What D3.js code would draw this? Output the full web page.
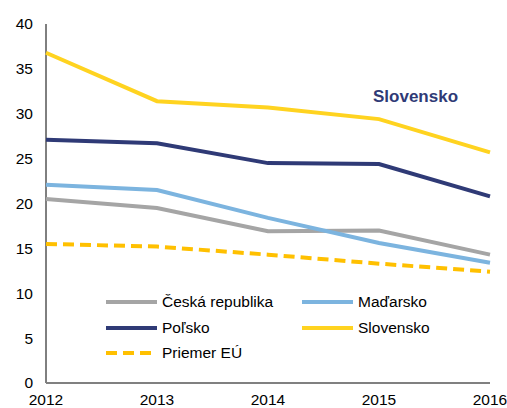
<!DOCTYPE html>
<html>
<head>
<meta charset="utf-8">
<script src="https://d3js.org/d3.v7.min.js"></script>
<style>
  body { margin: 0; background: #fff; }
  text { font-family: "Liberation Sans", Arial, sans-serif; }
</style>
</head>
<body>
<svg width="507" height="408"></svg>
<script>
  var years = [2012, 2013, 2014, 2015, 2016];
  var yTicks = [0, 5, 10, 15, 20, 25, 30, 35, 40];

  var cesko = [20.5, 19.5, 16.9, 17.0, 14.3];
  var madarsko = [22.1, 21.5, 18.4, 15.6, 13.4];
  var polsko = [27.1, 26.7, 24.5, 24.4, 20.8];
  var slovensko = [36.8, 31.4, 30.7, 29.4, 25.7];
  var priemerEU = [15.5, 15.2, 14.3, 13.3, 12.4];

  var series = [
    {name: "Česká republika", values: cesko, color: "#a5a5a5", dash: null},
    {name: "Maďarsko", values: madarsko, color: "#7cb4df", dash: null},
    {name: "Poľsko", values: polsko, color: "#2f3a76", dash: null},
    {name: "Slovensko", values: slovensko, color: "#ffd320", dash: null},
    {name: "Priemer EÚ", values: priemerEU, color: "#ffc000", dash: "11,6"}
  ];

  var svg = d3.select("svg");
  var x = d3.scaleLinear().domain([2012, 2016]).range([46, 490]);
  var y = d3.scaleLinear().domain([0, 40]).range([383, 24]);

  // y axis
  svg.append("line")
    .attr("x1", 46).attr("x2", 46)
    .attr("y1", y(40)).attr("y2", y(0))
    .attr("stroke", "#000").attr("stroke-width", 1);

  svg.append("g").selectAll("text")
    .data(yTicks).enter().append("text")
    .attr("x", 33).attr("y", function(d){ return y(d); })
    .attr("dy", "0.35em")
    .attr("text-anchor", "end")
    .attr("font-size", 15.5)
    .attr("fill", "#000")
    .text(function(d){ return d; });

  // lines
  var line = d3.line()
    .x(function(d, i){ return x(years[i]); })
    .y(function(d){ return y(d); });

  svg.append("g").selectAll("path")
    .data(series).enter().append("path")
    .attr("d", function(d){ return line(d.values); })
    .attr("fill", "none")
    .attr("stroke", function(d){ return d.color; })
    .attr("stroke-width", 4)
    .attr("stroke-dasharray", function(d){ return d.dash; });

  // x axis
  svg.append("line")
    .attr("x1", 46).attr("x2", 490)
    .attr("y1", y(0)).attr("y2", y(0))
    .attr("stroke", "#808080").attr("stroke-width", 2);

  svg.append("g").selectAll("text")
    .data(years).enter().append("text")
    .attr("x", function(d){ return x(d); })
    .attr("y", 405)
    .attr("text-anchor", "middle")
    .attr("font-size", 15.5)
    .attr("fill", "#000")
    .text(function(d){ return d; });

  // legend
  var legendPos = [
    [106, 302], [302, 302],
    [106, 328], [302, 328],
    [106, 353]
  ];
  var order = [0, 1, 2, 3, 4];
  var lg = svg.append("g").selectAll("g")
    .data(order).enter().append("g")
    .attr("transform", function(d, i){ return "translate(" + legendPos[i][0] + "," + legendPos[i][1] + ")"; });
  lg.append("line")
    .attr("x1", 0).attr("x2", 51)
    .attr("stroke", function(d){ return series[d].color; })
    .attr("stroke-width", 4)
    .attr("stroke-dasharray", function(d){ return series[d].dash; });
  lg.append("text")
    .attr("x", 56).attr("dy", "0.35em")
    .attr("font-size", 15.5)
    .attr("fill", "#000")
    .text(function(d){ return series[d].name; });

  // annotation
  svg.append("text")
    .attr("x", 373).attr("y", 102)
    .attr("font-size", 17)
    .attr("font-weight", "bold")
    .attr("fill", "#2f3a76")
    .text("Slovensko");
</script>
</body>
</html>
